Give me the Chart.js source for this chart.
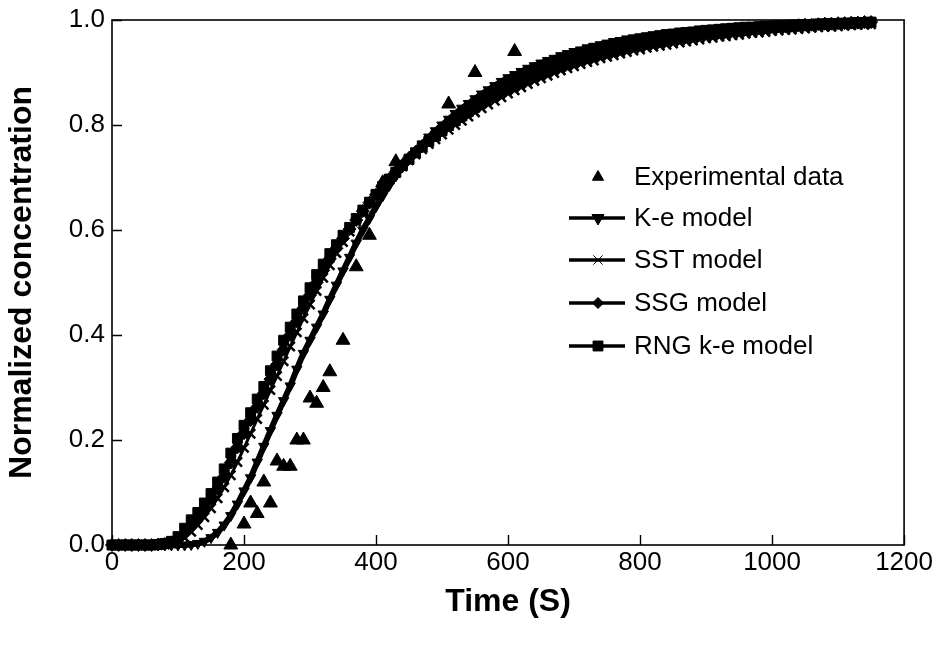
<!DOCTYPE html>
<html>
<head>
<meta charset="utf-8">
<script src="https://cdn.jsdelivr.net/npm/chart.js@4.4.1/dist/chart.umd.min.js"></script>
<style>
    html, body { margin: 0; padding: 0; background: #ffffff; }
</style>
</head>
<body>
<canvas id="concentration-chart" width="938" height="645"></canvas>
<script>
// sample times of the model curves (s)
const times = [
    0, 10, 20, 30, 40, 50, 60, 70, 80, 90,
    100, 110, 120, 130, 140, 150, 160, 170, 180, 190,
    200, 210, 220, 230, 240, 250, 260, 270, 280, 290,
    300, 310, 320, 330, 340, 350, 360, 370, 380, 390,
    400, 410, 420, 430, 440, 450, 460, 470, 480, 490,
    500, 510, 520, 530, 540, 550, 560, 570, 580, 590,
    600, 610, 620, 630, 640, 650, 660, 670, 680, 690,
    700, 710, 720, 730, 740, 750, 760, 770, 780, 790,
    800, 810, 820, 830, 840, 850, 860, 870, 880, 890,
    900, 910, 920, 930, 940, 950, 960, 970, 980, 990,
    1000, 1010, 1020, 1030, 1040, 1050, 1060, 1070, 1080, 1090,
    1100, 1110, 1120, 1130, 1140, 1150
];

const keValues = [
    0, 0, 0, 0, 0, 0, 0, 0, 0, 0,
    0, 0, 0.001, 0.003, 0.007, 0.014, 0.024, 0.038, 0.056, 0.078,
    0.103, 0.128, 0.158, 0.188, 0.218, 0.247, 0.275, 0.303, 0.335, 0.365,
    0.39, 0.415, 0.44, 0.468, 0.495, 0.522, 0.548, 0.575, 0.6, 0.622,
    0.645, 0.665, 0.685, 0.703, 0.72, 0.735, 0.75, 0.764, 0.777, 0.789,
    0.8, 0.811, 0.822, 0.832, 0.841, 0.85, 0.859, 0.867, 0.875, 0.883,
    0.89, 0.896, 0.902, 0.908, 0.913, 0.918, 0.923, 0.927, 0.932, 0.936,
    0.94, 0.943, 0.947, 0.95, 0.953, 0.956, 0.959, 0.961, 0.964, 0.966,
    0.968, 0.97, 0.972, 0.974, 0.976, 0.977, 0.979, 0.98, 0.981, 0.983,
    0.984, 0.985, 0.986, 0.987, 0.988, 0.989, 0.99, 0.99, 0.991, 0.992,
    0.992, 0.993, 0.993, 0.994, 0.994, 0.995, 0.995, 0.996, 0.996, 0.996,
    0.997, 0.997, 0.997, 0.998, 0.998, 0.998
];

const sstValues = [
    0, 0, 0, 0, 0, 0, 0, 0, 0.001, 0.003,
    0.007, 0.014, 0.025, 0.038, 0.053, 0.07, 0.089, 0.11, 0.133, 0.158,
    0.185, 0.212, 0.24, 0.267, 0.295, 0.322, 0.35, 0.378, 0.405, 0.432,
    0.458, 0.484, 0.509, 0.533, 0.556, 0.577, 0.597, 0.616, 0.634, 0.651,
    0.667, 0.682, 0.696, 0.709, 0.721, 0.733, 0.744, 0.754, 0.764, 0.773,
    0.782, 0.791, 0.8, 0.808, 0.816, 0.824, 0.832, 0.839, 0.846, 0.853,
    0.86, 0.866, 0.872, 0.878, 0.884, 0.889, 0.894, 0.899, 0.904, 0.908,
    0.912, 0.916, 0.92, 0.923, 0.927, 0.93, 0.933, 0.936, 0.939, 0.942,
    0.944, 0.947, 0.949, 0.951, 0.953, 0.955, 0.957, 0.959, 0.961, 0.963,
    0.965, 0.966, 0.968, 0.969, 0.971, 0.972, 0.974, 0.975, 0.976, 0.977,
    0.979, 0.98, 0.981, 0.982, 0.983, 0.984, 0.985, 0.986, 0.987, 0.987,
    0.988, 0.989, 0.99, 0.991, 0.991, 0.992
];

const ssgValues = [
    0, 0, 0, 0, 0, 0, 0, 0.001, 0.002, 0.005,
    0.011, 0.022, 0.037, 0.052, 0.068, 0.087, 0.107, 0.13, 0.157, 0.186,
    0.213, 0.238, 0.263, 0.289, 0.316, 0.344, 0.372, 0.4, 0.426, 0.451,
    0.476, 0.5, 0.523, 0.545, 0.565, 0.584, 0.602, 0.619, 0.636, 0.652,
    0.667, 0.682, 0.697, 0.711, 0.724, 0.737, 0.749, 0.76, 0.771, 0.781,
    0.791, 0.801, 0.811, 0.82, 0.829, 0.838, 0.846, 0.854, 0.862, 0.869,
    0.876, 0.882, 0.888, 0.894, 0.9, 0.905, 0.91, 0.915, 0.92, 0.924,
    0.928, 0.932, 0.936, 0.939, 0.942, 0.945, 0.948, 0.951, 0.953, 0.956,
    0.958, 0.96, 0.962, 0.964, 0.966, 0.968, 0.97, 0.971, 0.973, 0.974,
    0.976, 0.977, 0.978, 0.979, 0.98, 0.982, 0.983, 0.984, 0.985, 0.986,
    0.987, 0.988, 0.988, 0.989, 0.99, 0.991, 0.991, 0.992, 0.993, 0.993,
    0.994, 0.994, 0.995, 0.995, 0.996, 0.996
];

const rngValues = [
    0, 0, 0, 0, 0, 0, 0, 0.001, 0.003, 0.007,
    0.016, 0.032, 0.048, 0.062, 0.08, 0.098, 0.12, 0.145, 0.175, 0.203,
    0.228, 0.252, 0.278, 0.302, 0.332, 0.36, 0.39, 0.415, 0.44, 0.465,
    0.49, 0.515, 0.535, 0.555, 0.572, 0.59, 0.605, 0.622, 0.638, 0.653,
    0.668, 0.683, 0.697, 0.71, 0.723, 0.735, 0.747, 0.758, 0.769, 0.779,
    0.789, 0.799, 0.808, 0.817, 0.826, 0.834, 0.842, 0.85, 0.857, 0.864,
    0.871, 0.877, 0.883, 0.889, 0.895, 0.9, 0.905, 0.91, 0.915, 0.919,
    0.923, 0.927, 0.931, 0.935, 0.938, 0.941, 0.944, 0.947, 0.95, 0.953,
    0.955, 0.958, 0.96, 0.962, 0.964, 0.966, 0.968, 0.97, 0.972, 0.973,
    0.975, 0.976, 0.978, 0.979, 0.98, 0.981, 0.982, 0.983, 0.984, 0.985,
    0.986, 0.987, 0.988, 0.989, 0.99, 0.99, 0.991, 0.992, 0.992, 0.993,
    0.993, 0.994, 0.994, 0.995, 0.995, 0.996
];

// experimental points
const expTimes = [180, 200, 210, 220, 230, 240, 250, 260, 270, 280, 290, 300, 310, 320, 330, 350, 370, 390, 410, 430, 510, 550, 610];
const expValues = [0.0, 0.04, 0.08, 0.06, 0.12, 0.08, 0.16, 0.15, 0.15, 0.2, 0.2, 0.28, 0.27, 0.3, 0.33, 0.39, 0.53, 0.59, 0.69, 0.73, 0.84, 0.9, 0.94];

const seriesLabels = ['Experimental data', 'K-e model', 'SST model', 'SSG model', 'RNG k-e model'];
const xTicks = [0, 200, 400, 600, 800, 1000, 1200];
const xTickLabels = ['0', '200', '400', '600', '800', '1000', '1200'];
const yTicks = [0, 0.2, 0.4, 0.6, 0.8, 1.0];
const yTickLabels = ['0.0', '0.2', '0.4', '0.6', '0.8', '1.0'];
const xTitle = 'Time (S)';
const yTitle = 'Normalized concentration';

const fontFamily = '"Liberation Sans", Arial, Helvetica, sans-serif';

function toPoints(xs, ys) {
    return xs.map((x, i) => ({ x: x, y: ys[i] }));
}

var modelStyle = {
    borderColor: '#000000',
    backgroundColor: '#000000',
    pointBorderColor: '#000000',
    pointBackgroundColor: '#000000',
    borderWidth: 3,
    pointBorderWidth: 1,
    showLine: true,
    tension: 0,
    clip: false,
};

// frame around the plot and ticks pointing inward
const framePlugin = {
    id: 'frame',
    beforeDatasetsDraw(chart) {
        const { ctx, chartArea: a, scales } = chart;
        ctx.save();
        ctx.strokeStyle = '#000000';
        ctx.lineWidth = 1.6;
        ctx.strokeRect(a.left, a.top, a.right - a.left, a.bottom - a.top);
        ctx.beginPath();
        scales.x.ticks.forEach(t => {
            const px = Math.round(scales.x.getPixelForValue(t.value)) + 0.5;
            ctx.moveTo(px, a.bottom);
            ctx.lineTo(px, a.bottom - 10);
        });
        scales.y.ticks.forEach(t => {
            const py = Math.round(scales.y.getPixelForValue(t.value)) + 0.5;
            ctx.moveTo(a.left, py);
            ctx.lineTo(a.left + 10, py);
        });
        ctx.lineWidth = 1.4;
        ctx.stroke();
        ctx.restore();
    }
};

// legend placed inside the plot, right of centre
const legendPlugin = {
    id: 'insideLegend',
    afterDraw(chart) {
        const ctx = chart.ctx;
        const rows = [177, 218, 260, 303, 346];
        ctx.save();
        chart.data.datasets.forEach((ds, i) => {
            const y = rows[i];
            ctx.strokeStyle = '#000000';
            ctx.fillStyle = '#000000';
            if (ds.showLine) {
                ctx.lineWidth = 3.5;
                ctx.beginPath();
                ctx.moveTo(569, y);
                ctx.lineTo(625, y);
                ctx.stroke();
            }
            ctx.lineWidth = 1;
            Chart.helpers.drawPoint(ctx, {
                pointStyle: ds.pointStyle,
                radius: ds.legendRadius,
                rotation: ds.rotation || 0,
                borderWidth: ds.pointStyle === 'crossRot' ? 2 : 1
            }, 598, y);
            ctx.font = '26px ' + fontFamily;
            ctx.textBaseline = 'middle';
            ctx.textAlign = 'left';
            ctx.fillText(ds.label, 634, y + 1);
        });
        ctx.restore();
    }
};

const ctx = document.getElementById('concentration-chart');
new Chart(ctx, {
    type: 'scatter',
    data: {
        datasets: [
            {
                label: seriesLabels[0],
                data: toPoints(expTimes, expValues),
                pointStyle: 'triangle',
                pointRadius: 8,
                legendRadius: 6.5,
                backgroundColor: '#000000',
                borderColor: '#000000',
                borderWidth: 1,
                showLine: false,
                clip: false
            },
            {
                ...modelStyle,
                label: seriesLabels[1],
                data: toPoints(times, keValues),
                pointStyle: 'triangle',
                rotation: 180,
                pointRadius: 6,
                legendRadius: 7,
                borderWidth: 6
            },
            {
                ...modelStyle,
                label: seriesLabels[2],
                data: toPoints(times, sstValues),
                pointStyle: 'crossRot',
                pointRadius: 6.5,
                pointBorderWidth: 2.5,
                legendRadius: 6.5
            },
            {
                ...modelStyle,
                label: seriesLabels[3],
                data: toPoints(times, ssgValues),
                pointStyle: 'rectRot',
                pointRadius: 6.5,
                legendRadius: 5.5
            },
            {
                ...modelStyle,
                label: seriesLabels[4],
                data: toPoints(times, rngValues),
                pointStyle: 'rect',
                pointRadius: 7,
                legendRadius: 7
            }
        ]
    },
    options: {
        responsive: false,
        animation: false,
        layout: { padding: { left: 0, right: 32, top: 15, bottom: 0 } },
        plugins: {
            legend: { display: false },
            tooltip: { enabled: false }
        },
        scales: {
            x: {
                type: 'linear',
                min: 0,
                max: 1200,
                afterBuildTicks: scale => { scale.ticks = xTicks.map(v => ({ value: v })); },
                afterFit: scale => { scale.height = 100; },
                grid: { display: false, drawTicks: false },
                border: { display: false },
                ticks: {
                    color: '#000000',
                    padding: 5,
                    maxRotation: 0,
                    font: { family: fontFamily, size: 26, lineHeight: 1 },
                    callback: (value, index) => xTickLabels[index]
                },
                title: {
                    display: true,
                    text: xTitle,
                    color: '#000000',
                    padding: { top: 0, bottom: 24 },
                    font: { family: fontFamily, size: 32, weight: 'bold', lineHeight: 1.2 }
                }
            },
            y: {
                type: 'linear',
                min: 0,
                max: 1,
                afterBuildTicks: scale => { scale.ticks = yTicks.map(v => ({ value: v })); },
                afterFit: scale => { scale.width = 112; },
                grid: { display: false, drawTicks: false },
                border: { display: false },
                ticks: {
                    color: '#000000',
                    padding: 7,
                    font: { family: fontFamily, size: 26, lineHeight: 1 },
                    callback: (value, index) => yTickLabels[index]
                },
                title: {
                    display: true,
                    text: yTitle,
                    color: '#000000',
                    padding: { top: 3, bottom: 0 },
                    font: { family: fontFamily, size: 32, weight: 'bold', lineHeight: 1.2 }
                }
            }
        }
    },
    plugins: [framePlugin, legendPlugin]
});
</script>
</body>
</html>
